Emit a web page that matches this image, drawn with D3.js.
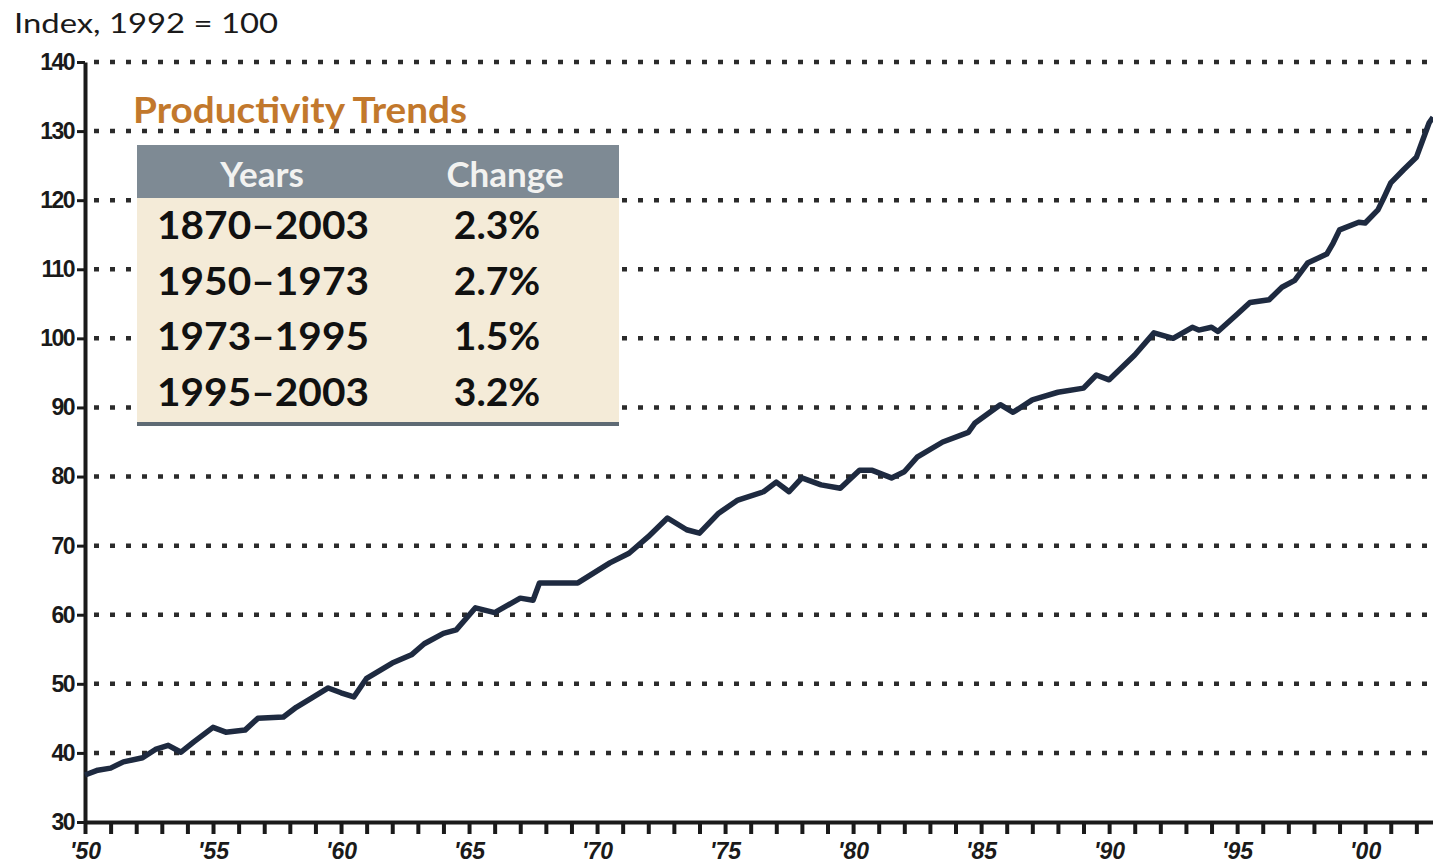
<!DOCTYPE html>
<html>
<head>
<meta charset="utf-8">
<script src="https://cdn.jsdelivr.net/npm/d3@7"></script>
<style>
  body { margin: 0; background: #fff; }
  svg { display: block; font-family: Lato, "DejaVu Sans", sans-serif; }
</style>
</head>
<body>
<svg id="chart" width="1433" height="867"></svg>
<script>
// productivity index (year as decimal, index 1992 = 100)
const years = [1950.0, 1950.5, 1951.0, 1951.5, 1952.25, 1952.75, 1953.25, 1953.75, 1954.25, 1955.0,
  1955.5, 1956.25, 1956.75, 1957.75, 1958.25, 1958.75, 1959.5, 1960.0, 1960.5, 1961.0,
  1962.0, 1962.75, 1963.25, 1964.0, 1964.5, 1965.25, 1966.0, 1967.0, 1967.5, 1967.75,
  1969.25, 1970.5, 1971.25, 1972.0, 1972.75, 1973.5, 1974.0, 1974.75, 1975.5, 1976.5,
  1977.0, 1977.5, 1978.0, 1978.75, 1979.5, 1980.25, 1980.75, 1981.5, 1982.0, 1982.5,
  1983.5, 1984.5, 1984.75, 1985.75, 1986.25, 1987.0, 1988.0, 1989.0, 1989.5, 1990.0,
  1991.0, 1991.75, 1992.5, 1993.25, 1993.5, 1994.0, 1994.25, 1995.0, 1995.5, 1996.25,
  1996.75, 1997.25, 1997.75, 1998.5, 1998.75, 1999.0, 1999.75, 2000.0, 2000.5, 2000.75,
  2001.0, 2001.5, 2002.0, 2002.25, 2002.5, 2002.65];
const index = [36.8, 37.5, 37.8, 38.7, 39.3, 40.5, 41.1, 40.1, 41.6, 43.7,
  43.0, 43.3, 45.0, 45.2, 46.6, 47.7, 49.4, 48.7, 48.1, 50.8,
  53.0, 54.2, 55.8, 57.3, 57.8, 61.0, 60.3, 62.4, 62.1, 64.6,
  64.6, 67.5, 68.9, 71.3, 74.0, 72.3, 71.8, 74.7, 76.6, 77.8,
  79.2, 77.8, 79.8, 78.8, 78.3, 80.9, 80.9, 79.8, 80.7, 82.8,
  85.0, 86.4, 87.7, 90.4, 89.3, 91.1, 92.2, 92.8, 94.7, 94.0,
  97.6, 100.8, 100.0, 101.6, 101.2, 101.6, 101.0, 103.5, 105.2, 105.6,
  107.4, 108.4, 110.9, 112.2, 113.8, 115.7, 116.8, 116.7, 118.6, 120.5,
  122.5, 124.4, 126.2, 128.7, 131.2, 132.0];

const yTicks = [30, 40, 50, 60, 70, 80, 90, 100, 110, 120, 130, 140];
const xTickYears = d3.range(1950, 2003);

const tablePeriods = ["1870\u20132003", "1950\u20131973", "1973\u20131995", "1995\u20132003"];
const tableChanges = ["2.3%", "2.7%", "1.5%", "3.2%"];

const svg = d3.select("#chart");
const x = d3.scaleLinear().domain([1950, 2002.65]).range([85, 1433]);
const y = d3.scaleLinear().domain([30, 140]).range([822, 62]);
const ink = "#1a1a1a";

// dotted gridlines
svg.append("g")
  .selectAll("line")
  .data(yTicks.filter(d => d > 30))
  .join("line")
  .attr("x1", 94).attr("x2", 1433)
  .attr("y1", d => y(d)).attr("y2", d => y(d))
  .attr("stroke", "#2b2b2b")
  .attr("stroke-width", 4.5)
  .attr("stroke-dasharray", "5,11");

// y axis
const yAxis = svg.append("g")
  .attr("transform", "translate(85,0)")
  .call(d3.axisLeft(y).tickValues(yTicks).tickSize(8).tickSizeOuter(0).tickPadding(3));
yAxis.select(".domain").attr("stroke", ink).attr("stroke-width", 4);
yAxis.selectAll(".tick line").attr("stroke", ink).attr("stroke-width", 3);
yAxis.selectAll(".tick text")
  .attr("fill", ink)
  .style("font-size", "23px")
  .style("font-weight", "bold")
  .attr("letter-spacing", "-1.5");

// x axis
const xAxis = svg.append("g")
  .attr("transform", `translate(0,${y(30)})`)
  .call(d3.axisBottom(x)
    .tickValues(xTickYears)
    .tickSize(12)
    .tickSizeOuter(0)
    .tickPadding(9)
    .tickFormat(d => d % 5 === 0 ? "'" + String(d).slice(2) : ""));
xAxis.select(".domain").attr("stroke", ink).attr("stroke-width", 4);
xAxis.selectAll(".tick line").attr("stroke", ink).attr("stroke-width", 4);
xAxis.selectAll(".tick text")
  .attr("fill", ink)
  .style("font-size", "23px")
  .style("font-weight", "bold")
  .style("font-style", "italic");

// series line
const line = d3.line()
  .x((d, i) => x(years[i]))
  .y(d => y(d));
svg.append("path")
  .datum(index)
  .attr("fill", "none")
  .attr("stroke", "#1e2a40")
  .attr("stroke-width", 5.5)
  .attr("stroke-linejoin", "round")
  .attr("d", line);

// unit label
svg.append("text")
  .attr("x", 14).attr("y", 33)
  .attr("fill", ink)
  .style("font-size", "27px")
  .attr("textLength", 264)
  .attr("lengthAdjust", "spacingAndGlyphs")
  .text("Index, 1992 = 100");

// inset table
const table = svg.append("g");
table.append("text")
  .attr("x", 133).attr("y", 123)
  .attr("fill", "#c2782c")
  .style("font-size", "37px")
  .style("font-weight", "bold")
  .attr("textLength", 334)
  .attr("lengthAdjust", "spacingAndGlyphs")
  .text("Productivity Trends");

table.append("rect")
  .attr("x", 137).attr("y", 145).attr("width", 482).attr("height", 53)
  .attr("fill", "#7e8a94");
table.append("rect")
  .attr("x", 137).attr("y", 198).attr("width", 482).attr("height", 224)
  .attr("fill", "#f4ebd8");
table.append("line")
  .attr("x1", 137).attr("x2", 619).attr("y1", 424).attr("y2", 424)
  .attr("stroke", "#5e6a74").attr("stroke-width", 4);

table.append("text")
  .attr("x", 262).attr("y", 187)
  .attr("text-anchor", "middle")
  .attr("fill", "#f2f2f0")
  .style("font-size", "35px")
  .style("font-weight", "bold")
  .text("Years");
table.append("text")
  .attr("x", 505).attr("y", 187)
  .attr("text-anchor", "middle")
  .attr("fill", "#f2f2f0")
  .style("font-size", "35px")
  .style("font-weight", "bold")
  .text("Change");

const rowY = d3.scalePoint().domain(d3.range(tablePeriods.length)).range([239, 406]);
table.append("g")
  .selectAll("text")
  .data(tablePeriods)
  .join("text")
  .attr("x", 157)
  .attr("y", (d, i) => rowY(i))
  .attr("fill", "#111")
  .style("font-size", "39px")
  .style("font-weight", "bold")
  .attr("textLength", 212)
  .attr("lengthAdjust", "spacingAndGlyphs")
  .text(d => d);
table.append("g")
  .selectAll("text")
  .data(tableChanges)
  .join("text")
  .attr("x", 497)
  .attr("y", (d, i) => rowY(i))
  .attr("text-anchor", "middle")
  .attr("fill", "#111")
  .style("font-size", "39px")
  .style("font-weight", "bold")
  .text(d => d);
</script>
</body>
</html>
